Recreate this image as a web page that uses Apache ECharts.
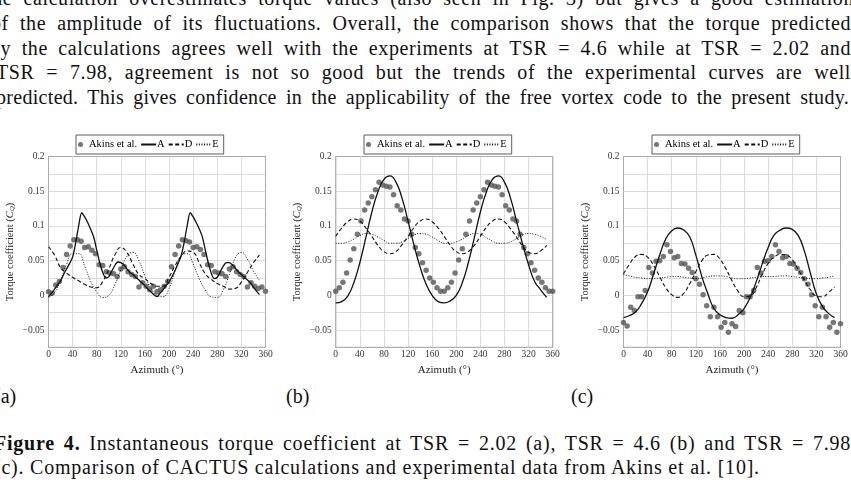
<!DOCTYPE html>
<html>
<head>
<meta charset="utf-8">
<script src="https://cdn.jsdelivr.net/npm/echarts@6/dist/echarts.min.js"></script>
<style>
  html, body { margin: 0; padding: 0; background: #fff; overflow: hidden; }
  body { width: 851px; height: 482px; position: relative; font-family: "Liberation Serif", serif; color: #111; }
  .ln { position: absolute; font-size: 20px; line-height: 24px; letter-spacing: 0.6px; white-space: nowrap; text-align: justify; text-align-last: justify; }
  .cap { position: absolute; font-size: 20px; line-height: 24px; letter-spacing: 0.78px; white-space: nowrap; }
  #chart { position: absolute; left: 0; top: 120px; width: 851px; height: 262px; }
</style>
</head>
<body>
<div class="ln" style="left:-14px;width:868px;top:-14px">the calculation overestimates torque values (also seen in Fig. 3) but gives a good estimation</div>
<div class="ln" style="left:-9px;width:860px;top:11px">of the amplitude of its fluctuations. Overall, the comparison shows that the torque predicted</div>
<div class="ln" style="left:-10px;width:861px;top:35.5px">by the calculations agrees well with the experiments at TSR = 4.6 while at TSR = 2.02 and</div>
<div class="ln" style="left:-4px;width:855px;top:60.3px">TSR = 7.98, agreement is not so good but the trends of the experimental curves are well</div>
<div class="ln" style="left:-4px;width:853px;top:85px;letter-spacing:0.3px">predicted. This gives confidence in the applicability of the free vortex code to the present study.</div>

<div id="chart"></div>

<div class="cap" style="left:-6px;top:384px;letter-spacing:0">(a)</div>
<div class="cap" style="left:286px;top:384px;letter-spacing:0">(b)</div>
<div class="cap" style="left:571px;top:384px;letter-spacing:0">(c)</div>
<div class="cap" style="left:-6px;width:857px;top:431px;text-align:justify;text-align-last:justify"><b>Figure 4.</b> Instantaneous torque coefficient at TSR = 2.02 (a), TSR = 4.6 (b) and TSR = 7.98</div>
<div class="cap" style="left:-6px;top:454.5px">(c). Comparison of CACTUS calculations and experimental data from Akins et al. [10].</div>

<script>
// azimuth positions (degrees)
const AZ_EXP = [0, 6, 12, 18, 24, 30, 36, 42, 48, 54, 60, 66, 72, 78, 84, 90, 96, 102, 108, 114, 120,
  126, 132, 138, 144, 150, 156, 162, 168, 174, 180, 186, 192, 198, 204, 210, 216, 222, 228, 234, 240,
  246, 252, 258, 264, 270, 276, 282, 288, 294, 300, 306, 312, 318, 324, 330, 336, 342, 348, 354, 360];
const AZ_SIM = [0, 10, 20, 30, 40, 50, 60, 70, 80, 90, 100, 110, 120, 130, 140, 150, 160, 170,
  180, 190, 200, 210, 220, 230, 240, 250, 260, 270, 280, 290, 300, 310, 320, 330, 340, 350];
const AZ_SIM_FINE = [0, 5, 10, 15, 20, 25, 30, 35, 40, 45, 50, 55, 60, 65, 70, 75, 80, 85, 90, 95,
  100, 105, 110, 115, 120, 125, 130, 135, 140, 145, 150, 155, 160, 165, 170, 175, 180, 185, 190, 195,
  200, 205, 210, 215, 220, 225, 230, 235, 240, 245, 250, 255, 260, 265, 270, 275, 280, 285, 290, 295,
  300, 305, 310, 315, 320, 325, 330, 335, 340, 345, 350];
const X_TICKS = [0, 40, 80, 120, 160, 200, 240, 280, 320, 360];
const Y_LABELS = [-0.05, 0, 0.05, 0.1, 0.15, 0.2];

// (a) TSR = 2.02
const akinsA = [0.005, 0.003, 0.015, 0.020, 0.040, 0.059, 0.071, 0.080, 0.080, 0.078, 0.069,
  0.070, 0.065, 0.060, 0.044, 0.043, 0.034, 0.032, 0.031, 0.027, 0.038, 0.041, 0.034, 0.030,
  0.027, 0.012, 0.018, 0.013, 0.008, 0.013, 0.005, 0.008, 0.013, 0.020, 0.041, 0.059, 0.071,
  0.080, 0.079, 0.077, 0.069, 0.070, 0.066, 0.059, 0.044, 0.043, 0.034, 0.032, 0.031, 0.027,
  0.038, 0.041, 0.034, 0.030, 0.027, 0.012, 0.018, 0.013, 0.010, 0.012, 0.006];
const simA_A = [-0.002, 0.003, 0.009, 0.015, 0.021, 0.030, 0.038, 0.046, 0.055, 0.075, 0.100,
  0.119, 0.113, 0.105, 0.095, 0.084, 0.065, 0.047, 0.033, 0.025, 0.027, 0.035, 0.043, 0.048,
  0.047, 0.044, 0.038, 0.033, 0.030, 0.026, 0.022, 0.018, 0.014, 0.009, 0.005, 0.001, -0.002,
  0.003, 0.008, 0.014, 0.019, 0.027, 0.036, 0.046, 0.057, 0.076, 0.100, 0.119, 0.113, 0.105,
  0.096, 0.085, 0.066, 0.047, 0.032, 0.024, 0.026, 0.034, 0.042, 0.047, 0.047, 0.044, 0.039,
  0.034, 0.030, 0.026, 0.022, 0.018, 0.012, 0.006, 0.001];
const simA_D = [0.070, 0.058, 0.040, 0.032, 0.026, 0.021, 0.016, 0.012, 0.011, 0.020, 0.038,
  0.058, 0.069, 0.062, 0.045, 0.030, 0.024, 0.017, 0.013, 0.013, 0.026, 0.043, 0.056, 0.064,
  0.062, 0.047, 0.031, 0.023, 0.017, 0.013, 0.009, 0.010, 0.019, 0.033, 0.047, 0.058];
const simA_E = [-0.003, 0.004, 0.022, 0.045, 0.060, 0.060, 0.042, 0.020, 0.005, -0.003, 0.000,
  0.015, 0.037, 0.056, 0.062, 0.050, 0.028, 0.010, 0.000, -0.002, 0.010, 0.035, 0.057, 0.060,
  0.045, 0.024, 0.008, -0.002, -0.003, 0.008, 0.030, 0.054, 0.062, 0.052, 0.035, 0.022];

// (b) TSR = 4.6
const akinsB = [0.006, 0.011, 0.019, 0.032, 0.051, 0.067, 0.088, 0.107, 0.123, 0.133, 0.142,
  0.152, 0.163, 0.159, 0.157, 0.156, 0.145, 0.129, 0.123, 0.110, 0.107, 0.088, 0.069, 0.060,
  0.047, 0.036, 0.025, 0.019, 0.011, 0.006, 0.006, 0.011, 0.019, 0.032, 0.051, 0.067, 0.088,
  0.107, 0.123, 0.133, 0.142, 0.152, 0.163, 0.159, 0.157, 0.156, 0.145, 0.129, 0.123, 0.110,
  0.107, 0.088, 0.069, 0.060, 0.047, 0.036, 0.025, 0.019, 0.011, 0.006, 0.006];
const simB_A = [-0.011, -0.009, -0.001, 0.018, 0.047, 0.083, 0.120, 0.149, 0.167, 0.172, 0.163,
  0.140, 0.107, 0.072, 0.041, 0.016, 0.000, -0.009, -0.011, -0.008, 0.000, 0.018, 0.047, 0.083,
  0.120, 0.149, 0.167, 0.172, 0.163, 0.140, 0.107, 0.074, 0.044, 0.020, 0.008, -0.003];
const simB_D = [0.085, 0.097, 0.106, 0.110, 0.107, 0.097, 0.085, 0.072, 0.063, 0.060, 0.063,
  0.073, 0.085, 0.098, 0.107, 0.110, 0.106, 0.097, 0.085, 0.072, 0.063, 0.060, 0.063, 0.072,
  0.085, 0.098, 0.107, 0.110, 0.106, 0.096, 0.084, 0.071, 0.062, 0.060, 0.064, 0.072];
const simB_E = [0.075, 0.075, 0.077, 0.081, 0.086, 0.089, 0.088, 0.084, 0.079, 0.075, 0.075,
  0.077, 0.082, 0.087, 0.089, 0.088, 0.084, 0.079, 0.075, 0.075, 0.077, 0.081, 0.086, 0.089,
  0.088, 0.083, 0.078, 0.075, 0.075, 0.077, 0.082, 0.087, 0.089, 0.088, 0.085, 0.080];

// (c) TSR = 7.98
const akinsC = [-0.039, -0.044, -0.017, -0.022, -0.002, -0.002, 0.007, 0.040, 0.032, 0.049, 0.050,
  0.056, 0.073, 0.063, 0.054, 0.056, 0.046, 0.045, 0.039, 0.033, 0.024, 0.016, 0.001, -0.015,
  -0.031, -0.017, -0.031, -0.046, -0.039, -0.053, -0.041, -0.045, -0.022, -0.025, -0.002, -0.002,
  0.007, 0.040, 0.032, 0.049, 0.050, 0.056, 0.073, 0.063, 0.054, 0.056, 0.046, 0.045, 0.039,
  0.033, 0.024, 0.016, 0.001, -0.015, -0.031, -0.017, -0.031, -0.046, -0.039, -0.053, -0.041];
const simC_A = [-0.032, -0.029, -0.024, -0.012, 0.005, 0.031, 0.058, 0.081, 0.093, 0.097, 0.094,
  0.084, 0.058, 0.027, 0.002, -0.019, -0.028, -0.032, -0.033, -0.028, -0.019, -0.003, 0.019,
  0.045, 0.069, 0.087, 0.094, 0.097, 0.095, 0.086, 0.064, 0.032, 0.002, -0.016, -0.026, -0.032];
const simC_D = [0.031, 0.045, 0.056, 0.059, 0.055, 0.043, 0.027, 0.011, 0.001, -0.003, 0.003,
  0.017, 0.034, 0.050, 0.058, 0.059, 0.052, 0.038, 0.021, 0.006, -0.002, -0.001, 0.011, 0.030,
  0.046, 0.055, 0.059, 0.058, 0.051, 0.037, 0.022, 0.008, -0.001, -0.002, 0.004, 0.012];
const simC_E = [0.030, 0.028, 0.026, 0.025, 0.024, 0.024, 0.025, 0.026, 0.027, 0.027, 0.026,
  0.025, 0.024, 0.025, 0.027, 0.028, 0.028, 0.027, 0.025, 0.024, 0.024, 0.025, 0.026, 0.027,
  0.027, 0.027, 0.028, 0.028, 0.027, 0.026, 0.025, 0.024, 0.024, 0.025, 0.026, 0.028];

const panels = [
  { left: 48.5, legendLeft: 76, exp: akinsA, A: [AZ_SIM_FINE, simA_A], D: simA_D, E: simA_E },
  { left: 335.7, legendLeft: 364, exp: akinsB, A: [AZ_SIM, simB_A], D: simB_D, E: simB_E },
  { left: 623.5, legendLeft: 652, exp: akinsC, A: [AZ_SIM, simC_A], D: simC_D, E: simC_E }
];

const zip = (xs, ys) => xs.map((x, i) => [x, ys[i]]);
const FONT = 'Liberation Serif';
const noMarker = { opacity: 0, color: 'rgba(0,0,0,0)', borderWidth: 0 };

const chart = echarts.init(document.getElementById('chart'));

const option = {
  animation: false,
  grid: [], xAxis: [], yAxis: [], series: [], legend: []
};

panels.forEach((p, i) => {
  option.grid.push({
    left: p.left, top: 36.5, width: 217, height: 190.9,
    show: true, borderColor: '#333', borderWidth: 0.8, backgroundColor: '#fff'
  });
  option.xAxis.push({
    type: 'value', gridIndex: i, min: 0, max: 360, interval: 40,
    name: 'Azimuth (°)', nameLocation: 'middle', nameGap: 14,
    nameTextStyle: { fontFamily: FONT, fontSize: 11, color: '#222' },
    axisLine: { show: false }, axisTick: { show: false },
    axisLabel: {
      fontFamily: FONT, fontSize: 9.5, color: '#333', margin: 2,
      formatter: v => X_TICKS.includes(v) ? String(v) : ''
    },
    splitLine: { lineStyle: { color: '#cdcdcd', width: 0.7 } }
  });
  option.yAxis.push({
    type: 'value', gridIndex: i, min: -0.075, max: 0.2, interval: 0.025,
    name: 'Torque coefficient ({i|C}{s|Q})', nameLocation: 'middle', nameGap: 33,
    nameTextStyle: {
      fontFamily: FONT, fontSize: 10.5, color: '#222',
      rich: {
        i: { fontFamily: FONT, fontSize: 10.5, fontStyle: 'italic', color: '#222' },
        s: { fontFamily: FONT, fontSize: 7, fontStyle: 'italic', color: '#222', verticalAlign: 'bottom', padding: [4, 0, 0, 0] }
      }
    },
    axisLine: { show: false }, axisTick: { show: false },
    axisLabel: {
      fontFamily: FONT, fontSize: 9.5, color: '#333', margin: 4,
      formatter: v => {
        const hit = Y_LABELS.find(t => Math.abs(t - v) < 1e-6);
        if (hit === undefined) return '';
        return String(hit).replace('-', '\u2212');
      }
    },
    splitLine: { lineStyle: { color: '#cdcdcd', width: 0.7 } }
  });
  option.series.push(
    {
      name: 'Akins et al.', type: 'scatter', xAxisIndex: i, yAxisIndex: i,
      symbol: 'circle', symbolSize: 5.5, itemStyle: { color: '#555' }, z: 3,
      data: zip(AZ_EXP, p.exp)
    },
    {
      name: 'A', type: 'line', xAxisIndex: i, yAxisIndex: i, symbol: 'none', showSymbol: false,
      smooth: i === 0 ? 0.25 : 0.5, lineStyle: { color: '#111', width: 1.3, type: 'solid' },
      itemStyle: { color: '#111' }, z: 4, data: zip(p.A[0], p.A[1])
    },
    {
      name: 'D', type: 'line', xAxisIndex: i, yAxisIndex: i, symbol: 'none', showSymbol: false,
      smooth: 0.5, lineStyle: { color: '#111', width: 1.1, type: [4, 2.5] },
      itemStyle: { color: '#111' }, z: 4, data: zip(AZ_SIM, p.D)
    },
    {
      name: 'E', type: 'line', xAxisIndex: i, yAxisIndex: i, symbol: 'none', showSymbol: false,
      smooth: 0.5, lineStyle: { color: '#111', width: 1, type: [1, 1.6] },
      itemStyle: { color: '#111' }, z: 4, data: zip(AZ_SIM, p.E)
    }
  );
  option.legend.push({
    left: p.legendLeft, top: 15, orient: 'horizontal',
    data: [
      { name: 'Akins et al.', icon: 'circle' },
      { name: 'A', itemStyle: noMarker },
      { name: 'D', itemStyle: noMarker },
      { name: 'E', itemStyle: noMarker }
    ],
    itemWidth: 15, itemHeight: 5, itemGap: 3,
    padding: [4, 5, 4, 2], borderColor: '#333', borderWidth: 0.8, backgroundColor: '#fff',
    textStyle: { fontFamily: FONT, fontSize: 10.5, color: '#000', padding: [0, 0, 0, -4] },
    selectedMode: false
  });
});

chart.setOption(option);
</script>
</body>
</html>
